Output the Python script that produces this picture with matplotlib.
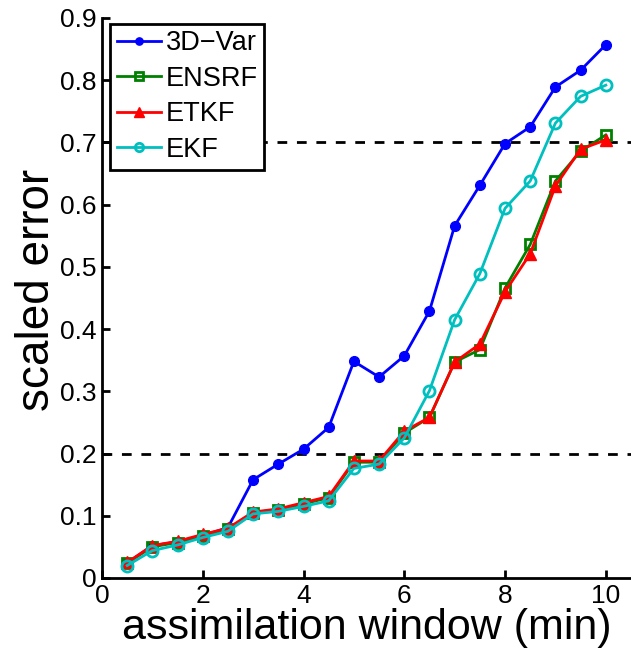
import matplotlib
matplotlib.use("Agg")
import matplotlib.pyplot as plt

plt.rcParams['font.family'] = ['Liberation Sans', 'DejaVu Sans']

window = [0.5, 1, 1.5, 2, 2.5, 3, 3.5, 4, 4.5, 5, 5.5, 6, 6.5, 7, 7.5, 8, 8.5, 9, 9.5, 10]
var3d = [0.024, 0.052, 0.058, 0.068, 0.081, 0.158, 0.183, 0.207, 0.242, 0.348, 0.323, 0.357,
         0.429, 0.566, 0.631, 0.698, 0.725, 0.789, 0.816, 0.857]
ensrf = [0.024, 0.050, 0.057, 0.068, 0.078, 0.105, 0.110, 0.119, 0.129, 0.186, 0.186, 0.233,
         0.258, 0.347, 0.367, 0.466, 0.536, 0.638, 0.686, 0.712]
etkf = [0.025, 0.052, 0.059, 0.070, 0.080, 0.106, 0.111, 0.121, 0.131, 0.188, 0.188, 0.236,
        0.258, 0.347, 0.376, 0.460, 0.521, 0.630, 0.689, 0.704]
ekf = [0.020, 0.044, 0.053, 0.065, 0.075, 0.103, 0.107, 0.115, 0.124, 0.176, 0.183, 0.225,
       0.301, 0.415, 0.489, 0.594, 0.638, 0.731, 0.774, 0.792]
thresholds = [0.2, 0.7]
xticks = [0, 2, 4, 6, 8, 10]
yticks = [0, 0.1, 0.2, 0.3, 0.4, 0.5, 0.6, 0.7, 0.8, 0.9]
ytick_labels = ['0', '0.1', '0.2', '0.3', '0.4', '0.5', '0.6', '0.7', '0.8', '0.9']

fig = plt.figure(figsize=(6.31, 6.55), dpi=100)
ax = fig.add_axes([0.1616, 0.1176, 0.8384, 0.855])

for t in thresholds:
    ax.axhline(t, color='black', linestyle=(0, (3.5, 3.5)), linewidth=2, zorder=1)

ax.plot(window, var3d, color='#0000ff', linewidth=2, marker='o', markersize=7,
        markerfacecolor='#0000ff', markeredgecolor='#0000ff', label='3D\u2212Var', zorder=3)
ax.plot(window, ensrf, color='#008000', linewidth=2, marker='s', markersize=7,
        markerfacecolor='none', markeredgecolor='#008000', markeredgewidth=2, label='ENSRF', zorder=3)
ax.plot(window, etkf, color='#ff0000', linewidth=2, marker='^', markersize=9,
        markerfacecolor='#ff0000', markeredgecolor='#ff0000', label='ETKF', zorder=4)
ax.plot(window, ekf, color='#00bfbf', linewidth=2, marker='o', markersize=8,
        markerfacecolor='none', markeredgecolor='#00bfbf', markeredgewidth=2, label='EKF', zorder=5)

ax.set_xlim(0, 10.5)
ax.set_ylim(0, 0.9)
ax.set_xticks(xticks)
ax.set_yticks(yticks)
ax.set_yticklabels(ytick_labels)
ax.tick_params(direction='in', length=6, width=2, labelsize=19, pad=4)
for s in ['top', 'right']:
    ax.spines[s].set_visible(False)
for s in ['left', 'bottom']:
    ax.spines[s].set_linewidth(2)

ax.set_xlabel('assimilation window (min)', fontsize=31, labelpad=0)
ax.set_ylabel('scaled error', fontsize=33, labelpad=1)
ax.yaxis.set_label_coords(-0.082, 0.515)

leg = ax.legend(loc='upper left', bbox_to_anchor=(0.015, 0.99), fontsize=19.5, frameon=True,
                fancybox=False, framealpha=1, edgecolor='black', handlelength=1.65,
                handletextpad=0.15, borderpad=0.25, labelspacing=0.35, borderaxespad=0,
                markerscale=0.75)
leg.get_frame().set_linewidth(2)
leg.set_zorder(10)

fig.savefig('out.png', dpi=100)
